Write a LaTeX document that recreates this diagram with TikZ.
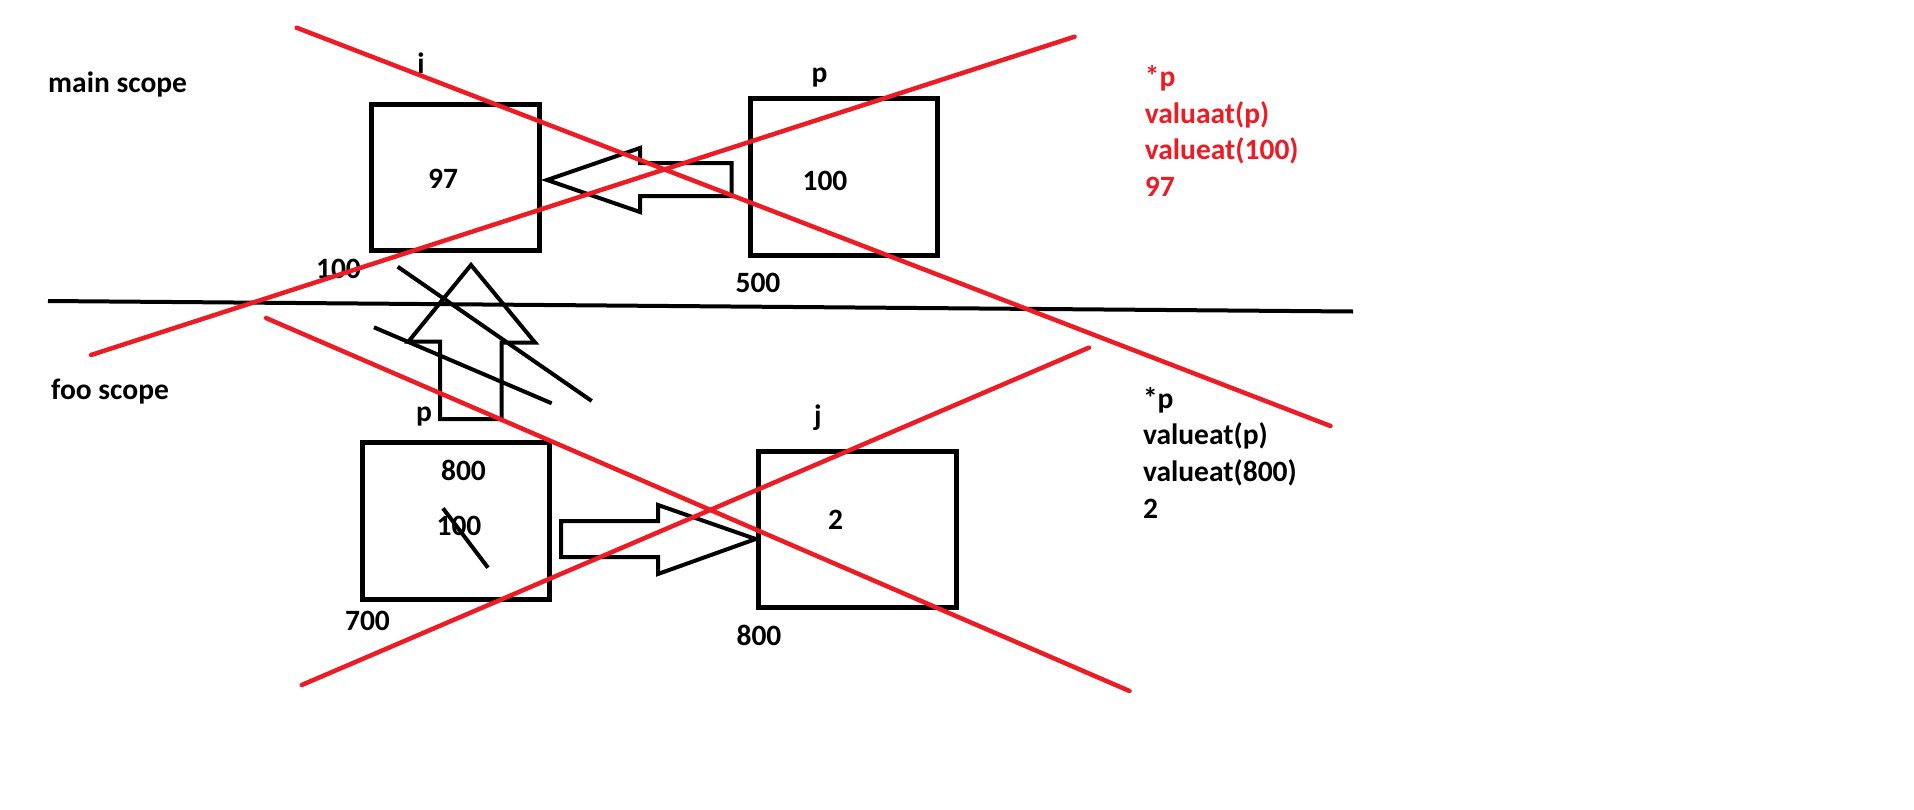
\documentclass[tikz,border=0pt]{standalone}
\usepackage{fontspec}
\setmainfont{Carlito}
\usepackage{tikz}
\definecolor{paintred}{RGB}{237,28,36}

\begin{document}
\begin{tikzpicture}[x=1pt,y=-1pt,
            cell/.style={draw, line width=5pt, inner sep=0pt},
            txt/.style={font=\bfseries\fontsize{29.5pt}{36.7pt}\selectfont, inner sep=0pt},
            ink/.style={line width=4pt},
            cross/.style={draw=paintred, line width=4.5pt, line cap=round}]
            \useasboundingbox (0,0) rectangle (1914,809);

            \node [txt, anchor=base west] (mainscope) at (48,92) {main scope};
            \node [txt, anchor=base west] (fooscope) at (51,399) {foo scope};

            \node [cell, minimum width=168pt, minimum height=146pt] (boxi) at (455.5,177.5) {};
            \node [cell, minimum width=187pt, minimum height=157pt] (boxp) at (843.5,177) {};
            \node [cell, minimum width=187pt, minimum height=157pt] (boxq) at (456,520.5) {};
            \node [cell, minimum width=198pt, minimum height=156pt] (boxj) at (857,529) {};

            \node [txt, anchor=base] (namei) at (421,73) {i};
            \node [txt, anchor=base] (namep) at (819.5,82) {p};
            \node [txt, anchor=base] (nameq) at (424,421.5) {p};
            \node [txt, anchor=base] (namej) at (818,425) {j};

            \node [txt, anchor=base] (vali) at (443,188) {97};
            \node [txt, anchor=base] (valp) at (825,190) {100};
            \node [txt, anchor=base] (valq) at (463.5,480) {800};
            \node [txt, anchor=base] (valqold) at (459,535.5) {100};
            \node [txt, anchor=base] (valj) at (835.5,529) {2};

            \node [txt, anchor=base] (addri) at (338.5,278) {100};
            \node [txt, anchor=base] (addrp) at (758,292) {500};
            \node [txt, anchor=base] (addrq) at (367.5,630) {700};
            \node [txt, anchor=base] (addrj) at (759,645.5) {800};

            \foreach \t [count=\k] in {*p, valuaat(p), valueat(100), 97}
                \node [txt, text=paintred, anchor=base west] (mainstep\k) at (1144.6,49.8+36.7*\k) {\t};
            \foreach \t [count=\k] in {*p, valueat(p), valueat(800), 2}
                \node [txt, anchor=base west] (foostep\k) at (1142.8,371.3+36.7*\k) {\t};

            \draw [ink] (48,301) -- (1353,311.5);

            \draw [ink, line join=miter] (547,180) -- (640,148) -- (640,163) -- (731.5,163)
                -- (731.5,196) -- (640,196) -- (640,212) -- cycle;
            \draw [ink, line join=miter] (471,265) -- (535,342.5) -- (501.7,342.5) -- (501.7,419)
                -- (440,419) -- (440,341.7) -- (408.3,341.7) -- cycle;
            \draw [ink, line join=miter] (561,521) -- (658,521) -- (658,505) -- (755.7,539)
                -- (658,574) -- (658,557) -- (561,557) -- cycle;

            \draw [ink] (397.7,266.7) -- (591.7,401);
            \draw [ink] (374,327.3) -- (551.7,403.3);
            \draw [ink] (443,508.3) -- (488,567.7);

            \draw [cross] (296.6,27.7) -- (1330.5,426);
            \draw [cross] (1074.6,36.7) -- (91,355);
            \draw [cross] (266,318) -- (1129.5,691);
            \draw [cross] (1089,347.6) -- (301.7,685);
        \end{tikzpicture}
\end{document}
